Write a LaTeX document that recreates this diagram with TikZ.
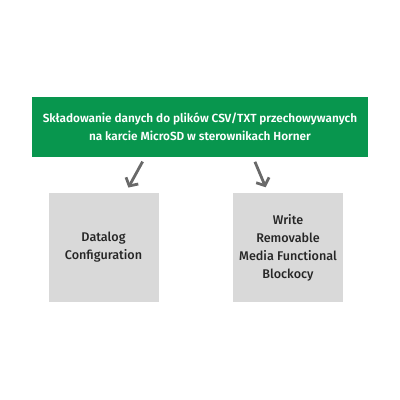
\documentclass[tikz,border=0pt]{standalone}
\usepackage{fontspec}
\setmainfont{Fira Sans}[BoldFont={Fira Sans SemiBold}]
\newfontfamily\medfont{Fira Sans Medium}
\usetikzlibrary{arrows.meta}
\definecolor{hgreen}{RGB}{8,150,78}
\definecolor{hgray}{RGB}{217,217,217}
\definecolor{hdark}{RGB}{105,105,105}

\begin{document}
\begin{tikzpicture}[x=1pt,y=-1pt,
  titlebox/.style={fill=hgreen,text=white,minimum width=336pt,minimum height=60pt,
    align=center,font=\fontsize{11.8}{18}\selectfont\bfseries},
  graybox/.style={fill=hgray,text=black!85,minimum width=110pt,minimum height=109pt,
    inner xsep=0pt,align=center,font=\medfont\fontsize{12.6}{18}\selectfont},
  arr/.style={draw=hdark,line width=2.8pt,-{Straight Barb[length=6pt,width=14pt]}}]
\useasboundingbox (0,0) rectangle (400,400);
% 标题
\node[titlebox] (title) at (200,127)
  {Składowanie danych do plików CSV/TXT przechowywanych\\na karcie MicroSD w sterownikach Horner};
% 两个方框
\node[graybox] (datalog) at (103.5,247.5) {Datalog\\Configuration};
\node[graybox] (writemedia) at (288,247.5) {Write\\Removable\\Media Functional\\Blockocy};
% 箭头
\draw[arr,shorten <=5pt,shorten >=6pt] ([xshift=-55pt]title.south) -- ([xshift=22pt]datalog.north);
\draw[arr,shorten <=5pt,shorten >=6pt] ([xshift=53pt]title.south) -- ([xshift=-20pt]writemedia.north);
\end{tikzpicture}
\end{document}
